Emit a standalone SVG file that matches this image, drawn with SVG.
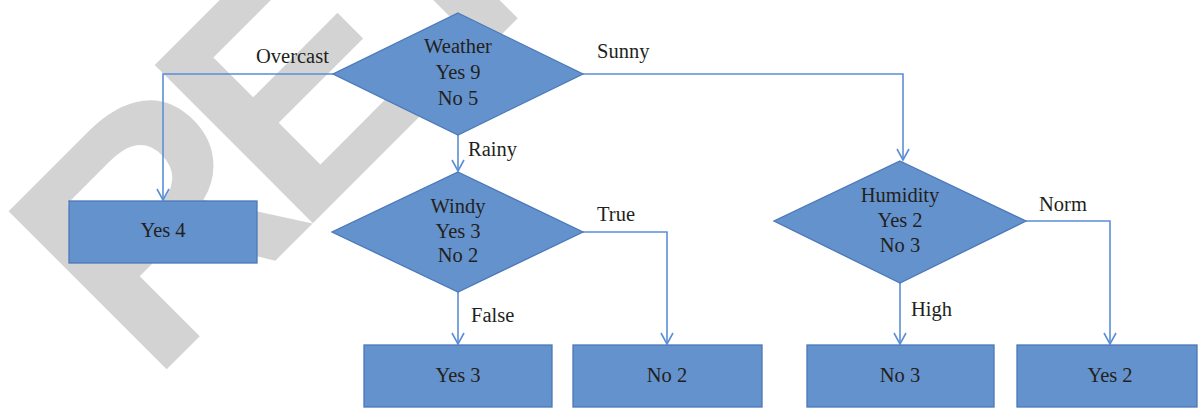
<svg xmlns="http://www.w3.org/2000/svg" width="1202" height="408" viewBox="0 0 1202 408">
<style>
.wm{font-family:"Liberation Sans",Arial,sans-serif;font-weight:bold;font-size:325px;fill:#d3d3d3}
.shape{fill:#6492cc;stroke:#4a78ba;stroke-width:1.3}
.t{font-family:"Liberation Serif","Times New Roman",serif;font-size:20.5px;fill:#231f20;text-anchor:middle}
.lbl{font-family:"Liberation Serif","Times New Roman",serif;font-size:20.5px;fill:#231f20}
.c{fill:none;stroke:#5b8fd6;stroke-width:1.6;marker-end:url(#arr)}
</style>
<defs>
<marker id="arr" markerWidth="14" markerHeight="14" refX="12" refY="7" orient="auto" markerUnits="userSpaceOnUse">
<path d="M1,1 L12,7 L1,13" fill="none" stroke="#5b8fd6" stroke-width="1.6"/>
</marker>
</defs>
<rect width="1202" height="408" fill="#ffffff"/>
<text class="wm" transform="rotate(-45)" x="-165" y="379" letter-spacing="-28">RETRACTED</text>
<g id="connectors">
<polyline class="c" points="333,74 163,74 163,200"/>
<polyline class="c" points="583,74 903,74 903,160"/>
<polyline class="c" points="458,135 458,171"/>
<polyline class="c" points="583,232 667,232 667,344"/>
<polyline class="c" points="458,292 458,344"/>
<polyline class="c" points="900,283 900,344"/>
<polyline class="c" points="1026,221 1110,221 1110,344"/>
</g>
<g id="labels">
<text class="lbl" x="256" y="63">Overcast</text>
<text class="lbl" x="597" y="58">Sunny</text>
<text class="lbl" x="468" y="156">Rainy</text>
<text class="lbl" x="597" y="221">True</text>
<text class="lbl" x="471" y="322">False</text>
<text class="lbl" x="1039" y="211">Norm</text>
<text class="lbl" x="911" y="316">High</text>
</g>
<g id="weather">
<polygon class="shape" points="458,13 583,74 458,135 333,74"/>
<text class="t" x="458" y="53">Weather</text>
<text class="t" x="458" y="79">Yes 9</text>
<text class="t" x="458" y="105">No 5</text>
</g>
<g id="windy">
<polygon class="shape" points="458,172 583,232 458,292 332,232"/>
<text class="t" x="458" y="213">Windy</text>
<text class="t" x="458" y="238">Yes 3</text>
<text class="t" x="458" y="262">No 2</text>
</g>
<g id="humidity">
<polygon class="shape" points="900,161 1026,221 900,283 774,221"/>
<text class="t" x="900" y="202">Humidity</text>
<text class="t" x="900" y="227">Yes 2</text>
<text class="t" x="900" y="252">No 3</text>
</g>
<g id="yes4">
<rect class="shape" x="69" y="201" width="188" height="62"/>
<text class="t" x="163" y="237">Yes 4</text>
</g>
<g id="yes3">
<rect class="shape" x="364" y="345" width="188" height="62"/>
<text class="t" x="458" y="382">Yes 3</text>
</g>
<g id="no2">
<rect class="shape" x="573" y="345" width="189" height="62"/>
<text class="t" x="667" y="382">No 2</text>
</g>
<g id="no3">
<rect class="shape" x="807" y="345" width="187" height="62"/>
<text class="t" x="900" y="382">No 3</text>
</g>
<g id="yes2">
<rect class="shape" x="1017" y="345" width="180" height="62"/>
<text class="t" x="1110" y="382">Yes 2</text>
</g>
</svg>
